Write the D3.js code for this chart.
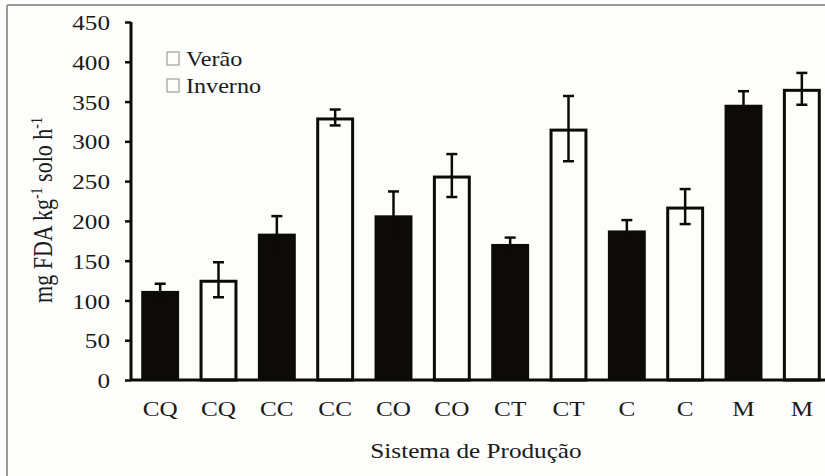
<!DOCTYPE html>
<html><head><meta charset="utf-8">
<script src="https://cdn.jsdelivr.net/npm/d3@7"></script>
<style>
html,body{margin:0;padding:0;background:#fdfdfb;}
svg{display:block;}
text{font-family:"Liberation Serif","Times New Roman",serif;fill:#1a1a1a;}
</style></head>
<body>
<svg id="c" width="825" height="476"></svg>
<script>
const categories = ["CQ","CQ","CC","CC","CO","CO","CT","CT","C","C","M","M"];
const seasons = ["Verão","Inverno","Verão","Inverno","Verão","Inverno","Verão","Inverno","Verão","Inverno","Verão","Inverno"];
const values = [112, 126, 184, 330, 207, 257, 171, 316, 188, 218, 346, 366];
const errors = [9, 22, 22, 10, 30, 27, 8, 41, 13, 22, 17, 20];
const yTicks = [0, 50, 100, 150, 200, 250, 300, 350, 400, 450];
const legendLabels = ["Verão", "Inverno"];

(function(){
const svg = d3.select("#c");
const W = 825, H = 476;
const pLeft = 131, pTop = 22, pBottom = 380;
const SX = 1.2; // horizontal stretch of text in the reference
const FS = 21;

svg.append("line").attr("x1",7).attr("x2",7).attr("y1",5).attr("y2",H).attr("stroke","#9a9a9a").attr("stroke-width",2);
svg.append("line").attr("x1",7).attr("x2",W).attr("y1",5).attr("y2",5).attr("stroke","#9a9a9a").attr("stroke-width",2);

const x = d3.scaleBand().domain(d3.range(categories.length)).range([pLeft, 831]).paddingInner(0.35).paddingOuter(0.175);
const y = d3.scaleLinear().domain([0, 450]).range([pBottom, pTop]);

const data = categories.map((c,i)=>({i, c, s:seasons[i], v:values[i], e:errors[i]}));

svg.append("g").selectAll("rect").data(data).join("rect")
  .attr("x", d => d.s === "Verão" ? x(d.i) : x(d.i)+1.5)
  .attr("width", d => d.s === "Verão" ? x.bandwidth() : x.bandwidth()-3)
  .attr("y", d => d.s === "Verão" ? y(d.v) : y(d.v)+1.5)
  .attr("height", d => d.s === "Verão" ? pBottom - y(d.v) : pBottom - y(d.v) - 1.5)
  .attr("fill", d => d.s === "Verão" ? "#0c0b09" : "#fdfdfb")
  .attr("stroke", d => d.s === "Verão" ? "none" : "#0c0b09")
  .attr("stroke-width", 3);

const eg = svg.append("g").attr("stroke","#0c0b09").attr("stroke-width",2.5);
data.forEach(d => {
  const cx = x(d.i) + x.bandwidth()/2;
  eg.append("line").attr("x1",cx).attr("x2",cx).attr("y1",y(d.v+d.e)).attr("y2",y(d.v-d.e));
  eg.append("line").attr("x1",cx-5.5).attr("x2",cx+5.5).attr("y1",y(d.v+d.e)).attr("y2",y(d.v+d.e));
  eg.append("line").attr("x1",cx-5.5).attr("x2",cx+5.5).attr("y1",y(d.v-d.e)).attr("y2",y(d.v-d.e));
});

const ya = svg.append("g").attr("transform",`translate(${pLeft},0)`)
  .call(d3.axisLeft(y).tickValues(yTicks).tickSize(6).tickPadding(12).tickFormat(d3.format("d")));
ya.select(".domain").attr("stroke","#0c0b09").attr("stroke-width",3).attr("d",`M0,${pTop}V${pBottom}`);
ya.selectAll(".tick line").attr("stroke","#0c0b09").attr("stroke-width",2.5);
ya.selectAll(".tick text").attr("font-size",FS).attr("font-family","'Liberation Serif',serif").attr("fill","#1a1a1a")
  .attr("x",0).attr("dy","0.36em").attr("transform",`translate(-21,0) scale(${SX},1)`);

const xa = svg.append("g").attr("transform",`translate(0,${pBottom})`)
  .call(d3.axisBottom(x).tickSize(0).tickPadding(20).tickFormat(i => categories[i]));
xa.select(".domain").attr("stroke","#0c0b09").attr("stroke-width",3).attr("d",`M${pLeft},0H${W}`);
xa.selectAll(".tick text").attr("font-size",FS).attr("font-family","'Liberation Serif',serif").attr("fill","#1a1a1a")
  .attr("y",0).attr("dy",0).attr("transform",`translate(0,36) scale(${SX},1)`);

svg.append("text").attr("transform",`translate(476,458) scale(${SX},1)`).attr("text-anchor","middle").attr("font-size",FS).text("Sistema de Produção");
const yt = svg.append("text").attr("transform",`translate(52,210) rotate(-90) scale(1,${SX})`).attr("text-anchor","middle").attr("font-size",22);
yt.append("tspan").text("mg FDA kg");
yt.append("tspan").attr("font-size",14).attr("dy",-8).text("-1");
yt.append("tspan").attr("dy",8).text(" solo h");
yt.append("tspan").attr("font-size",14).attr("dy",-8).text("-1");

const lg = svg.append("g");
legendLabels.forEach((l,k) => {
  const yy = 52 + k*27;
  lg.append("rect").attr("x",167).attr("y",yy).attr("width",12).attr("height",13).attr("fill","none").attr("stroke","#8a8a8a").attr("stroke-width",1);
  lg.append("text").attr("transform",`translate(186,${yy+14}) scale(1.15,1)`).attr("font-size",FS).text(l);
});
})();
</script>
</body></html>
